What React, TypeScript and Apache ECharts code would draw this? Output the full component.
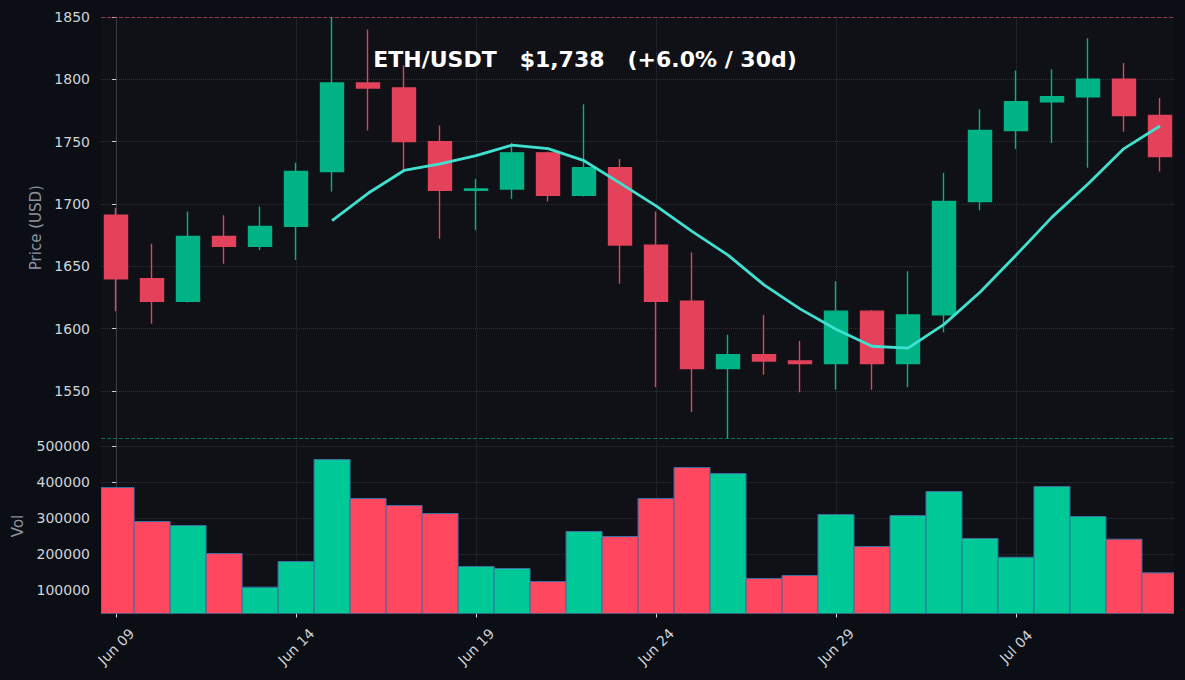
import React, { useEffect, useRef } from "react";
import * as echarts from "echarts";

const dates = [
  "Jun 09", "Jun 10", "Jun 11", "Jun 12", "Jun 13", "Jun 14", "Jun 15", "Jun 16", "Jun 17", "Jun 18",
  "Jun 19", "Jun 20", "Jun 21", "Jun 22", "Jun 23", "Jun 24", "Jun 25", "Jun 26", "Jun 27", "Jun 28",
  "Jun 29", "Jun 30", "Jul 01", "Jul 02", "Jul 03", "Jul 04", "Jul 05", "Jul 06", "Jul 07", "Jul 08",
];
const opens = [1691, 1640, 1622, 1674, 1666, 1682, 1726, 1797, 1793, 1750, 1711, 1712, 1741, 1707, 1729, 1667, 1622, 1568, 1579, 1574, 1572, 1614, 1572, 1611, 1702, 1759, 1782, 1786, 1800, 1771];
const highs = [1697, 1668, 1694, 1691, 1698, 1733, 1850, 1840, 1811, 1763, 1720, 1749, 1742, 1780, 1736, 1694, 1661, 1595, 1611, 1590, 1638, 1615, 1646, 1725, 1776, 1807, 1808, 1833, 1813, 1785];
const lows = [1614, 1604, 1621, 1652, 1663, 1655, 1710, 1759, 1727, 1672, 1679, 1704, 1702, 1706, 1636, 1553, 1533, 1512, 1563, 1549, 1551, 1551, 1553, 1597, 1695, 1744, 1749, 1729, 1758, 1726];
const closes = [1640, 1622, 1674, 1666, 1682, 1726, 1797, 1793, 1750, 1711, 1712, 1741, 1707, 1729, 1667, 1622, 1568, 1579, 1574, 1572, 1614, 1572, 1611, 1702, 1759, 1782, 1786, 1800, 1771, 1738];
const volumes = [384500, 290300, 279200, 201600, 108300, 179400, 462100, 354000, 334600, 312500, 165600, 160000, 124000, 262600, 248700, 354000, 440000, 423300, 132300, 140600, 309700, 221000, 306900, 373400, 243200, 191400, 387300, 304200, 241300, 148000];

const dateTicks = [0, 5, 10, 15, 20, 25];
const priceTicks = [1550, 1600, 1650, 1700, 1750, 1800, 1850];
const volTicks = [100000, 200000, 300000, 400000, 500000];
const MA_WINDOW = 7;

const C = {
  bg: "#0b0e14",
  panel: "#0f1116",
  up: "#00b386",
  down: "#e3425a",
  volUp: "#00c896",
  volDown: "#ff4760",
  volEdge: "#3f6ea3",
  ma: "#40e0d0",
  grid: "#2c3038",
  axis: "#383d46",
  label: "#d0d4da",
  name: "#8b949e",
};

export default function App() {
  const ref = useRef<HTMLDivElement>(null);

  useEffect(() => {
    document.body.style.margin = "0";
    const chart = echarts.init(ref.current!, undefined, { renderer: "svg" });

    const yMin = Math.min(...lows);
    const yMax = Math.max(...highs);

    const ma: [number, number][] = [];
    for (let i = MA_WINDOW - 1; i < closes.length; i++) {
      let s = 0;
      for (let k = i - MA_WINDOW + 1; k <= i; k++) s += closes[k];
      ma.push([i, s / MA_WINDOW]);
    }

    const last = closes[closes.length - 1];
    const pct = ((last / closes[0] - 1) * 100).toFixed(1);
    const title = `ETH/USDT   $${last.toLocaleString("en-US")}   (+${pct}% / 30d)`;

    const xMin = -0.42;
    const xMax = 29.39;
    const gridLine = { show: true, lineStyle: { color: C.grid, type: "dotted", width: 1 } };

    const option: any = {
      animation: false,
      backgroundColor: C.bg,
      textStyle: { fontFamily: "DejaVu Sans" },
      grid: [
        { left: 101, top: 17, width: 1073, height: 421.3, show: true, backgroundColor: C.panel, borderWidth: 0 },
        { left: 101, top: 438.3, width: 1073, height: 175.3, show: true, backgroundColor: C.panel, borderWidth: 0 },
      ],
      xAxis: [
        {
          type: "value", gridIndex: 0, min: xMin, max: xMax,
          axisLine: { show: false },
          axisTick: { show: false, customValues: dateTicks },
          axisLabel: { show: false, customValues: dateTicks },
          splitLine: gridLine,
        },
        {
          type: "value", gridIndex: 1, min: xMin, max: xMax,
          axisLine: { show: true, onZero: false, lineStyle: { color: C.axis, width: 1 } },
          axisTick: { show: true, customValues: dateTicks, length: 4, lineStyle: { color: C.label } },
          axisLabel: {
            customValues: dateTicks,
            formatter: (v: number) => dates[Math.round(v)],
            rotate: 45, margin: 33, align: "center", verticalAlign: "middle",
            color: C.label, fontSize: 14,
          },
          splitLine: gridLine,
        },
      ],
      yAxis: [
        {
          type: "value", gridIndex: 0, min: yMin, max: yMax,
          name: "Price (USD)", nameLocation: "middle", nameGap: 57,
          nameTextStyle: { color: C.name, fontSize: 15 },
          axisLine: { show: true, lineStyle: { color: C.axis, width: 1 } },
          axisTick: { show: true, customValues: priceTicks, length: 4, lineStyle: { color: C.label } },
          axisLabel: { customValues: priceTicks, formatter: (v: number) => String(v), color: C.label, fontSize: 14, margin: 11 },
          splitLine: gridLine,
        },
        {
          type: "value", gridIndex: 1, min: 35000, max: 521000,
          name: "Vol", nameLocation: "middle", nameGap: 75,
          nameTextStyle: { color: C.name, fontSize: 15 },
          axisLine: { show: true, lineStyle: { color: C.axis, width: 1 } },
          axisTick: { show: true, customValues: volTicks, length: 4, lineStyle: { color: C.label } },
          axisLabel: { customValues: volTicks, formatter: (v: number) => String(v), color: C.label, fontSize: 14, margin: 11 },
          splitLine: gridLine,
        },
      ],
      series: [
        {
          type: "candlestick",
          xAxisIndex: 0, yAxisIndex: 0,
          barWidth: 24,
          data: dates.map((_, i) => [i, opens[i], closes[i], lows[i], highs[i]]),
          itemStyle: { color: C.up, color0: C.down, borderColor: C.up, borderColor0: C.down, borderWidth: 1.4 },
          markLine: {
            silent: true, symbol: "none", label: { show: false },
            data: [
              { yAxis: yMax, lineStyle: { color: "rgba(227,66,90,0.6)", type: [4, 2], width: 1 } },
              { yAxis: yMin, lineStyle: { color: "rgba(0,179,134,0.6)", type: [4, 2], width: 1 } },
            ],
          },
        },
        {
          type: "line",
          xAxisIndex: 0, yAxisIndex: 0,
          data: ma,
          showSymbol: false,
          symbol: "none",
          lineStyle: { color: C.ma, width: 2.8 },
          z: 5,
        },
        {
          type: "custom",
          xAxisIndex: 1, yAxisIndex: 1,
          clip: true,
          data: volumes.map((v, i) => [i, v]),
          encode: { x: 0, y: 1 },
          renderItem: (params: any, api: any) => {
            const i = api.value(0);
            const v = api.value(1);
            const p0 = api.coord([i - 0.5, v]);
            const p1 = api.coord([i + 0.5, 0]);
            const cs = params.coordSys;
            const shape = echarts.graphic.clipRectByRect(
              { x: p0[0], y: p0[1], width: p1[0] - p0[0], height: p1[1] - p0[1] },
              { x: cs.x, y: cs.y, width: cs.width, height: cs.height }
            );
            if (!shape) return null;
            const idx = params.dataIndex;
            return {
              type: "rect",
              shape,
              style: {
                fill: closes[idx] >= opens[idx] ? C.volUp : C.volDown,
                stroke: C.volEdge,
                lineWidth: 1,
              },
            };
          },
        },
      ],
      graphic: [
        {
          type: "text", x: 585, y: 59, z: 100,
          style: {
            text: title, fill: "#ffffff", fontSize: 22, fontWeight: "bold",
            fontFamily: "DejaVu Sans", align: "center", verticalAlign: "middle",
          },
        },
      ],
    };

    chart.setOption(option);
    return () => chart.dispose();
  }, []);

  return <div ref={ref} style={{ width: 1185, height: 680 }} />;
}
